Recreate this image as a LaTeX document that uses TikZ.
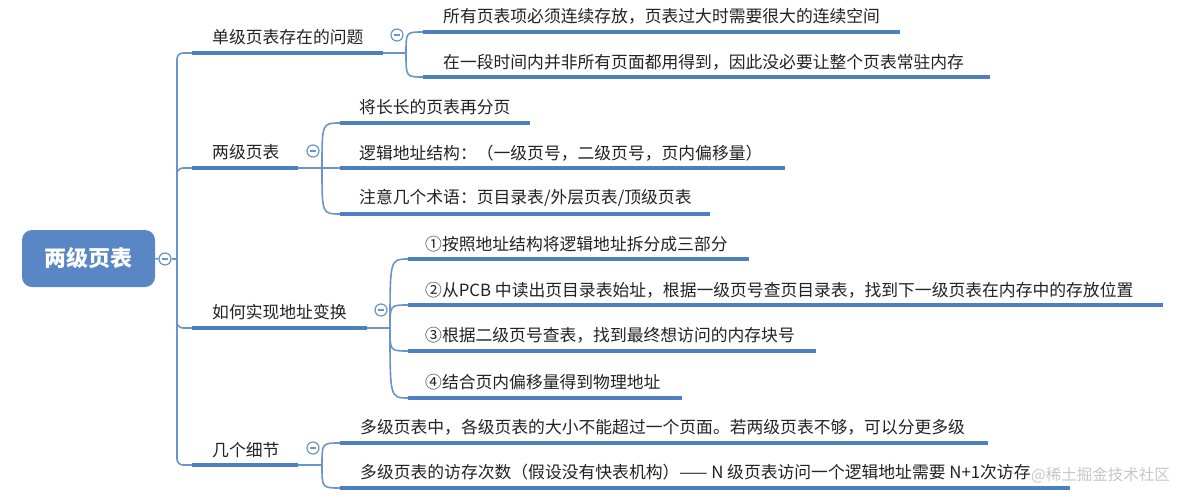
\documentclass[tikz,border=0pt]{standalone}
\usepackage{fontspec}
\setmainfont{Noto Sans CJK SC}
\definecolor{ub}{HTML}{4E7FC1}
\definecolor{tl}{HTML}{6A95CB}
\definecolor{rootc}{HTML}{5987C6}
\definecolor{tx}{HTML}{222222}
\definecolor{wmc}{HTML}{C6C6C6}
\begin{document}
\begin{tikzpicture}[x=1pt,y=-1pt,
  uline/.style={ub, line width=4pt},
  conn/.style={tl, line width=1.6pt},
  ttext/.style={anchor=west, inner sep=0pt, text=tx, font=\fontsize{16.8}{20}\selectfont},
  rootbox/.style={fill=rootc, rounded corners=10pt, minimum width=133pt, minimum height=57pt, inner sep=0pt, text=white, font=\fontsize{22}{26}\selectfont\bfseries},
  col/.style={circle, draw=tl, fill=white, line width=1.2pt, minimum size=12pt, inner sep=0pt,
    path picture={\draw[tl,line width=1.2pt] ([xshift=-3pt]path picture bounding box.center) -- ([xshift=3pt]path picture bounding box.center);}},
  wm/.style={inner sep=0pt, text=wmc, font=\fontsize{15.5}{18}\selectfont}
]
\useasboundingbox (0,0) rectangle (1186,501);

% watermark (behind)
\node[wm, anchor=east] (wm) at (1170,475) {@稀土掘金技术社区};

% root
\node[rootbox] (root) at (88.5,258.5) {两级页表};
\node[col] (c0) at (165,259) {};
\coordinate (trunk) at (177,259);
\draw[conn] (root.east) -- (c0.west);
\draw[conn] (c0.east) -- (trunk);

% ---------- branch 1
\coordinate (b1s) at (192,53); \coordinate (b1e) at (383,53); \coordinate (j1) at (406,53);
\node[ttext] (b1) at (212,37) {单级页表存在的问题};
\node[col] (c1) at (397,35) {};
\draw[conn, rounded corners=6pt] (trunk) |- (b1s);
\draw[uline] (b1s) -- (b1e);
\draw[conn] (b1e) -- (j1);
\coordinate (k11s) at (423,32); \coordinate (k11e) at (900,32);
\coordinate (k12s) at (423,77); \coordinate (k12e) at (990,77);
\node[ttext] (k11) at (443,16) {所有页表项必须连续存放，页表过大时需要很大的连续空间};
\node[ttext] (k12) at (443,62) {在一段时间内并非所有页面都用得到，因此没必要让整个页表常驻内存};
\draw[conn] (j1) .. controls (j1 |- k11s) .. (k11s);
\draw[conn] (j1) .. controls (j1 |- k12s) .. (k12s);
\draw[uline] (k11s) -- (k11e);
\draw[uline] (k12s) -- (k12e);

% ---------- branch 2
\coordinate (b2s) at (192,168); \coordinate (b2e) at (298,168); \coordinate (j2) at (322,168);
\node[ttext] (b2) at (212,152) {两级页表};
\node[col] (c2) at (313,151) {};
\draw[conn, rounded corners=6pt] (trunk) |- (b2s);
\draw[uline] (b2s) -- (b2e);
\draw[conn] (b2e) -- (j2);
\coordinate (k21s) at (340,123); \coordinate (k21e) at (530,123);
\coordinate (k22s) at (340,168); \coordinate (k22e) at (785,168);
\coordinate (k23s) at (340,214); \coordinate (k23e) at (710,214);
\node[ttext] (k21) at (359,107) {将长长的页表再分页};
\node[ttext] (k22) at (359,153) {逻辑地址结构：（一级页号，二级页号，页内偏移量）};
\node[ttext] (k23) at (359,198) {注意几个术语：页目录表/外层页表/顶级页表};
\draw[conn] (j2) .. controls (j2 |- k21s) .. (k21s);
\draw[conn] (j2) -- (k22s);
\draw[conn] (j2) .. controls (j2 |- k23s) .. (k23s);
\draw[uline] (k21s) -- (k21e);
\draw[uline] (k22s) -- (k22e);
\draw[uline] (k23s) -- (k23e);

% ---------- branch 3
\coordinate (b3s) at (192,328); \coordinate (b3e) at (367,328); \coordinate (j3) at (390,328);
\node[ttext] (b3) at (212,312) {如何实现地址变换};
\node[col] (c3) at (381,310) {};
\draw[conn, rounded corners=6pt] (trunk) |- (b3s);
\draw[uline] (b3s) -- (b3e);
\draw[conn] (b3e) -- (j3);
\coordinate (k31s) at (408,259); \coordinate (k31e) at (749,259);
\coordinate (k32s) at (408,305); \coordinate (k32e) at (1163,305);
\coordinate (k33s) at (408,351); \coordinate (k33e) at (816,351);
\coordinate (k34s) at (408,398); \coordinate (k34e) at (682,398);
\node[ttext] (k31) at (425,244) {①按照地址结构将逻辑地址拆分成三部分};
\node[ttext] (k32) at (425,290) {②从PCB 中读出页目录表始址，根据一级页号查页目录表，找到下一级页表在内存中的存放位置};
\node[ttext] (k33) at (425,335) {③根据二级页号查表，找到最终想访问的内存块号};
\node[ttext] (k34) at (425,382) {④结合页内偏移量得到物理地址};
\foreach \k in {k31s,k32s,k33s,k34s}{
  \draw[conn] (j3) .. controls (j3 |- \k) .. (\k);
}
\draw[uline] (k31s) -- (k31e);
\draw[uline] (k32s) -- (k32e);
\draw[uline] (k33s) -- (k33e);
\draw[uline] (k34s) -- (k34e);

% ---------- branch 4
\coordinate (b4s) at (192,465); \coordinate (b4e) at (298,465); \coordinate (j4) at (322,465);
\node[ttext] (b4) at (212,450) {几个细节};
\node[col] (c4) at (313,448) {};
\draw[conn, rounded corners=6pt] (trunk) |- (b4s);
\draw[uline] (b4s) -- (b4e);
\draw[conn] (b4e) -- (j4);
\coordinate (k41s) at (340,443); \coordinate (k41e) at (988,443);
\coordinate (k42s) at (340,488); \coordinate (k42e) at (1070,488);
\node[ttext] (k41) at (360,427) {多级页表中，各级页表的大小不能超过一个页面。若两级页表不够，可以分更多级};
\node[ttext] (k42) at (360,472) {多级页表的访存次数（假设没有快表机构）—— N 级页表访问一个逻辑地址需要 N+1次访存};
\draw[conn] (j4) .. controls (j4 |- k41s) .. (k41s);
\draw[conn] (j4) .. controls (j4 |- k42s) .. (k42s);
\draw[uline] (k41s) -- (k41e);
\draw[uline] (k42s) -- (k42e);
\end{tikzpicture}
\end{document}
